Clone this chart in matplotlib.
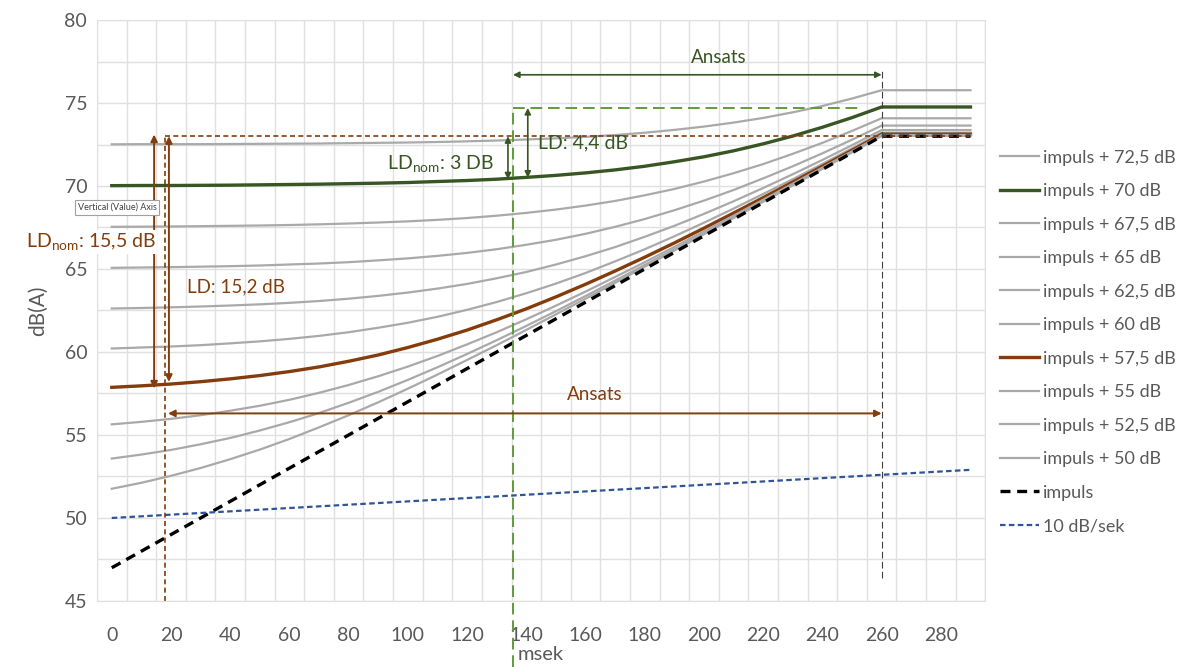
import matplotlib.pyplot as plt

plt.rcParams['font.family'] = ['Lato', 'DejaVu Sans']

# Categories (msek)
msek = list(range(0, 300, 10))

# Series values (dB)
impuls_725 = [72.51, 72.52, 72.52, 72.52, 72.53, 72.54, 72.55, 72.56, 72.58, 72.60,
              72.62, 72.65, 72.69, 72.74, 72.80, 72.87, 72.96, 73.07, 73.21, 73.38,
              73.58, 73.82, 74.10, 74.44, 74.82, 75.27, 75.77, 75.77, 75.77, 75.77]
impuls_70 = [70.02, 70.03, 70.03, 70.04, 70.05, 70.07, 70.09, 70.11, 70.14, 70.17,
             70.21, 70.27, 70.33, 70.41, 70.52, 70.64, 70.79, 70.97, 71.19, 71.46,
             71.76, 72.12, 72.54, 73.01, 73.54, 74.12, 74.76, 74.76, 74.76, 74.76]
impuls_675 = [67.54, 67.55, 67.56, 67.58, 67.60, 67.62, 67.65, 67.69, 67.74, 67.80,
              67.87, 67.96, 68.07, 68.21, 68.38, 68.58, 68.82, 69.10, 69.44, 69.82,
              70.27, 70.77, 71.32, 71.94, 72.60, 73.32, 74.08, 74.08, 74.08, 74.08]
impuls_65 = [65.07, 65.09, 65.11, 65.14, 65.17, 65.21, 65.27, 65.33, 65.41, 65.52,
             65.64, 65.79, 65.97, 66.19, 66.46, 66.76, 67.12, 67.54, 68.01, 68.54,
             69.12, 69.76, 70.46, 71.19, 71.97, 72.79, 73.64, 73.64, 73.64, 73.64]
impuls_625 = [62.62, 62.65, 62.69, 62.74, 62.80, 62.87, 62.96, 63.07, 63.21, 63.38,
              63.58, 63.82, 64.10, 64.44, 64.82, 65.27, 65.77, 66.32, 66.94, 67.60,
              68.32, 69.08, 69.88, 70.71, 71.57, 72.46, 73.37, 73.37, 73.37, 73.37]
impuls_60 = [60.21, 60.27, 60.33, 60.41, 60.52, 60.64, 60.79, 60.97, 61.19, 61.46,
             61.76, 62.12, 62.54, 63.01, 63.54, 64.12, 64.76, 65.46, 66.19, 66.97,
             67.79, 68.64, 69.52, 70.41, 71.33, 72.27, 73.21, 73.21, 73.21, 73.21]
impuls_575 = [57.87, 57.96, 58.07, 58.21, 58.38, 58.58, 58.82, 59.10, 59.44, 59.82,
              60.27, 60.77, 61.32, 61.94, 62.60, 63.32, 64.08, 64.88, 65.71, 66.57,
              67.46, 68.37, 69.30, 70.24, 71.19, 72.15, 73.12, 73.12, 73.12, 73.12]
impuls_55 = [55.64, 55.79, 55.97, 56.19, 56.46, 56.76, 57.12, 57.54, 58.01, 58.54,
             59.12, 59.76, 60.46, 61.19, 61.97, 62.79, 63.64, 64.52, 65.41, 66.33,
             67.27, 68.21, 69.17, 70.14, 71.11, 72.09, 73.07, 73.07, 73.07, 73.07]
impuls_525 = [53.58, 53.82, 54.10, 54.44, 54.82, 55.27, 55.77, 56.32, 56.94, 57.60,
              58.32, 59.08, 59.88, 60.71, 61.57, 62.46, 63.37, 64.30, 65.24, 66.19,
              67.15, 68.12, 69.10, 70.08, 71.06, 72.05, 73.04, 73.04, 73.04, 73.04]
impuls_50 = [51.76, 52.12, 52.54, 53.01, 53.54, 54.12, 54.76, 55.46, 56.19, 56.97,
             57.79, 58.64, 59.52, 60.41, 61.33, 62.27, 63.21, 64.17, 65.14, 66.11,
             67.09, 68.07, 69.05, 70.04, 71.03, 72.03, 73.02, 73.02, 73.02, 73.02]
impuls = [47, 48, 49, 50, 51, 52, 53, 54, 55, 56,
          57, 58, 59, 60, 61, 62, 63, 64, 65, 66,
          67, 68, 69, 70, 71, 72, 73, 73, 73, 73]
ti_db_sek = [50.0, 50.1, 50.2, 50.3, 50.4, 50.5, 50.6, 50.7, 50.8, 50.9,
             51.0, 51.1, 51.2, 51.3, 51.4, 51.5, 51.6, 51.7, 51.8, 51.9,
             52.0, 52.1, 52.2, 52.3, 52.4, 52.5, 52.6, 52.7, 52.8, 52.9]

labels = ['impuls + 72,5 dB', 'impuls + 70 dB', 'impuls + 67,5 dB', 'impuls + 65 dB',
          'impuls + 62,5 dB', 'impuls + 60 dB', 'impuls + 57,5 dB', 'impuls + 55 dB',
          'impuls + 52,5 dB', 'impuls + 50 dB', 'impuls', '10 dB/sek']

GRAY = '#A9A9A9'
GREEN = '#375623'
LGREEN = '#5E9C3A'
BROWN = '#843C0C'
BLUE = '#2F5597'
TXT = '#595959'

fig = plt.figure(figsize=(11.94, 6.67), dpi=100)
ax = fig.add_axes([0.0812, 0.099, 0.744, 0.871])

series = [impuls_725, impuls_70, impuls_675, impuls_65, impuls_625, impuls_60,
          impuls_575, impuls_55, impuls_525, impuls_50]
for vals, lab in zip(series, labels[:10]):
    if lab == 'impuls + 70 dB':
        ax.plot(msek, vals, color=GREEN, lw=2.4, label=lab)
    elif lab == 'impuls + 57,5 dB':
        ax.plot(msek, vals, color=BROWN, lw=2.4, label=lab)
    else:
        ax.plot(msek, vals, color=GRAY, lw=1.6, label=lab)
ax.plot(msek, impuls, color='black', lw=2.4, ls=(0, (3, 2)), label='impuls')
ax.plot(msek, ti_db_sek, color=BLUE, lw=1.6, ls=(0, (2.5, 1.5)), label='10 dB/sek')

ax.set_xlim(-5, 295)
ax.set_ylim(45, 80)
ax.set_xticks(range(0, 290, 20))
ax.set_xticks([v - 5 for v in range(0, 310, 10)], minor=True)
ax.set_yticks(range(45, 81, 5))
ax.set_yticks([47.5 + 5 * i for i in range(7)], minor=True)
ax.tick_params(which='both', length=0, colors=TXT, labelsize=14)
ax.tick_params(axis='x', pad=19)
ax.tick_params(axis='y', pad=7)
ax.grid(which='minor', axis='x', color='#E0E0E0', lw=1)
ax.grid(which='both', axis='y', color='#E0E0E0', lw=1)
ax.set_axisbelow(True)
for s in ax.spines.values():
    s.set_color('#E0E0E0')
ax.set_xlabel('msek', fontsize=14.5, color=TXT, labelpad=1)
ax.set_ylabel('dB(A)', fontsize=15, color=TXT, labelpad=12)

# brown annotations
ax.plot([18, 18], [45, 73], color=BROWN, lw=1.2, ls=(0, (3, 2)))
ax.plot([18, 290], [73, 73], color=BROWN, lw=1.2, ls=(0, (3, 2)))
arw_b = dict(arrowstyle='<|-|>', color=BROWN, lw=1.4, mutation_scale=10, shrinkA=0, shrinkB=0)
ax.annotate('', xy=(14.3, 73.1), xytext=(14.3, 57.8), arrowprops=arw_b)
ax.annotate('', xy=(19.3, 73.0), xytext=(19.3, 58.2), arrowprops=arw_b)
ax.annotate('', xy=(19, 56.3), xytext=(260, 56.3), arrowprops=arw_b)
ax.text(163, 56.9, 'Ansats', color=BROWN, fontsize=13.5, ha='center', va='bottom')
ax.text(-29, 66.6, r'LD$_{\mathregular{nom}}$: 15,5 dB', color=BROWN, fontsize=14,
        ha='left', va='center', bbox=dict(fc='white', ec='none', pad=1), clip_on=False)
ax.text(25.5, 63.9, 'LD: 15,2 dB', color=BROWN, fontsize=13.5, ha='left', va='center')
ax.text(-11.5, 68.7, 'Vertical (Value) Axis', color='#404040', fontsize=6.5, ha='left', va='center',
        bbox=dict(fc='white', ec='#A0A0A0', lw=0.8, pad=2), clip_on=False)

# green annotations
ax.plot([135.5, 135.5], [41.0, 74.7], color=LGREEN, lw=1.4, ls=(0, (6, 3)), clip_on=False)
ax.plot([135.5, 253.5], [74.7, 74.7], color=LGREEN, lw=1.4, ls=(0, (6, 3)))
arw_g = dict(arrowstyle='<|-|>', color=GREEN, lw=1.2, mutation_scale=9, shrinkA=0, shrinkB=0)
ax.annotate('', xy=(133.8, 73.0), xytext=(133.8, 70.4), arrowprops=arw_g)
ax.annotate('', xy=(140.5, 74.7), xytext=(140.5, 70.5), arrowprops=arw_g)
ax.annotate('', xy=(135.5, 76.7), xytext=(260, 76.7), arrowprops=arw_g)
ax.text(93, 71.3, r'LD$_{\mathregular{nom}}$: 3 DB', color=GREEN, fontsize=14, ha='left', va='center')
ax.text(144, 72.6, 'LD: 4,4 dB', color=GREEN, fontsize=14, ha='left', va='center')
ax.text(205, 77.2, 'Ansats', color=GREEN, fontsize=13.5, ha='center', va='bottom')

# end of ramp marker
ax.plot([260, 260], [46.4, 77.1], color='#404040', lw=0.8, ls=(0, (6, 3)))

fig.legend(loc='upper left', bbox_to_anchor=(0.8236, 0.80), frameon=False, fontsize=13,
           labelcolor=TXT, handlelength=2.2, handletextpad=0.2, labelspacing=0.97)

fig.savefig('out.png', dpi=100)
